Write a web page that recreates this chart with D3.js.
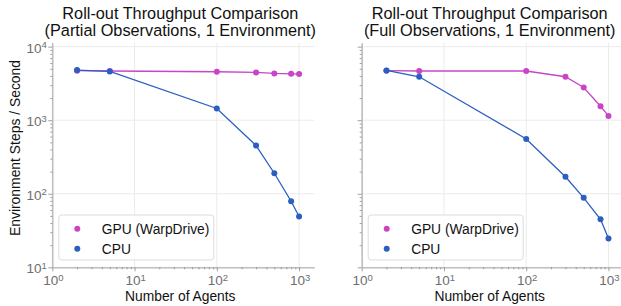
<!DOCTYPE html>
<html><head><meta charset="utf-8">
<script src="https://cdn.jsdelivr.net/npm/d3@7"></script>
<style>
body{margin:0;background:#fff;}
svg{display:block;font-family:"Liberation Sans",Arial,Helvetica,sans-serif;}
</style></head>
<body>
<svg id="chart" width="621" height="306"></svg>
<script>
const agents = [2, 5, 100, 300, 500, 800, 1000];
const gpuPartial = [4710, 4670, 4560, 4470, 4330, 4280, 4240];
const cpuPartial = [4810, 4610, 1445, 452, 190, 79, 49];
const gpuFull = [4710, 4670, 4670, 3900, 2790, 1550, 1145];
const cpuFull = [4750, 3900, 556, 170, 88, 45, 24.7];
const titles = [
  ["Roll-out Throughput Comparison", "(Partial Observations, 1 Environment)"],
  ["Roll-out Throughput Comparison", "(Full Observations, 1 Environment)"]
];
const seriesNames = ["GPU (WarpDrive)", "CPU"];
const colors = ["#c945c6", "#2a5fc2"];
const xTickExps = [0, 1, 2, 3];
const yTickExps = [1, 2, 3, 4];
const xLabel = "Number of Agents";
const yLabel = "Environment Steps / Second";

(function(){
const svg = d3.select("#chart");
const panels = [
  {left: 52.3, gpu: gpuPartial, cpu: cpuPartial, title: titles[0], ylabels: true},
  {left: 361.7, gpu: gpuFull, cpu: cpuFull, title: titles[1], ylabels: false}
];
const plotTop = 42.7, plotBottom = 267.3, w = 262;

function supLabel(sel, exp) {
  sel.text("");
  sel.append("tspan").text("10");
  sel.append("tspan").attr("dy", "-0.45em").attr("font-size", "9.5px").text(exp);
}
const isMajor = d => Math.abs(Math.log10(d) - Math.round(Math.log10(d))) < 1e-9;

panels.forEach((p, pi) => {
  const x = d3.scaleLog().domain([1, Math.pow(10, 3.185)]).range([p.left, p.left + w]);
  const y = d3.scaleLog().domain([10, Math.pow(10, 4.054)]).range([plotBottom, plotTop]);
  const g = svg.append("g");

  // grid
  g.selectAll(".gx").data(xTickExps).join("line")
    .attr("x1", d => x(Math.pow(10, d))).attr("x2", d => x(Math.pow(10, d)))
    .attr("y1", plotTop).attr("y2", plotBottom).attr("stroke", "#ebebeb").attr("stroke-width", 1);
  g.selectAll(".gy").data(yTickExps).join("line")
    .attr("x1", p.left).attr("x2", p.left + w)
    .attr("y1", d => y(Math.pow(10, d))).attr("y2", d => y(Math.pow(10, d)))
    .attr("stroke", "#ebebeb").attr("stroke-width", 1);

  // axes
  const xAxis = d3.axisBottom(x).tickValues(x.ticks()).tickSize(2).tickSizeOuter(0).tickFormat("");
  const xg = g.append("g").attr("transform", `translate(0,${plotBottom})`).call(xAxis);
  const yAxis = d3.axisLeft(y).tickValues(y.ticks()).tickSize(2).tickSizeOuter(0).tickFormat("");
  const yg = g.append("g").attr("transform", `translate(${p.left},0)`).call(yAxis);
  [xg, yg].forEach(a => {
    a.select(".domain").attr("stroke", "#b5b5b5").attr("stroke-width", 1.3);
    a.selectAll(".tick line").attr("stroke", "#888").attr("stroke-width", 0.8);
  });
  xg.selectAll(".tick").filter(isMajor).select("line").attr("y2", 4);
  yg.selectAll(".tick").filter(isMajor).select("line").attr("x2", -4);

  // tick labels
  g.selectAll(".xl").data(xTickExps).join("text")
    .attr("x", d => x(Math.pow(10, d)) + 1).attr("y", plotBottom + 17.5)
    .attr("text-anchor", "middle").attr("font-size", "13.5px").attr("fill", "#6e6e6e")
    .each(function(d){ supLabel(d3.select(this), d); });
  if (p.ylabels) {
    g.selectAll(".yl").data(yTickExps).join("text")
      .attr("x", p.left - 5.5).attr("y", d => y(Math.pow(10, d)) + 6)
      .attr("text-anchor", "end").attr("font-size", "13.5px").attr("fill", "#6e6e6e")
      .each(function(d){ supLabel(d3.select(this), d); });
  }

  // lines
  const line = d3.line().x((d, i) => x(agents[i])).y(d => y(d));
  [[p.gpu, 0], [p.cpu, 1]].forEach(([vals, ci]) => {
    g.append("path").datum(vals).attr("d", line).attr("fill", "none")
      .attr("stroke", colors[ci]).attr("stroke-width", 1.3);
    g.selectAll(null).data(vals).join("circle")
      .attr("cx", (d, i) => x(agents[i])).attr("cy", d => y(d)).attr("r", 3)
      .attr("fill", colors[ci]);
  });

  // title
  const cx = p.left + w / 2 - 3;
  g.append("text").attr("x", cx).attr("y", 19).attr("text-anchor", "middle")
    .attr("font-size", "16.3px").attr("fill", "#111").text(p.title[0]);
  g.append("text").attr("x", cx).attr("y", 36).attr("text-anchor", "middle")
    .attr("font-size", "16.3px").attr("fill", "#111").text(p.title[1]);

  // x label
  g.append("text").attr("x", cx).attr("y", 300.5).attr("text-anchor", "middle")
    .attr("font-size", "13.8px").attr("fill", "#111").text(xLabel);

  // legend
  const lx = p.left + 6.5, ly = 215;
  g.append("rect").attr("x", lx).attr("y", ly).attr("width", 155).attr("height", 45)
    .attr("rx", 3).attr("fill", "#fff").attr("fill-opacity", 0.85)
    .attr("stroke", "#dcdcdc").attr("stroke-width", 1);
  seriesNames.forEach((n, i) => {
    g.append("circle").attr("cx", p.left + 25).attr("cy", ly + 13.7 + i * 20).attr("r", 3)
      .attr("fill", colors[i]);
    g.append("text").attr("x", p.left + 49.5).attr("y", ly + 18.5 + i * 20)
      .attr("font-size", "13.8px").attr("fill", "#111").text(n);
  });
});

svg.append("text").attr("transform", `translate(19.5,148) rotate(-90)`)
  .attr("text-anchor", "middle").attr("font-size", "13.9px").attr("fill", "#111").text(yLabel);
})();
</script>
</body></html>
